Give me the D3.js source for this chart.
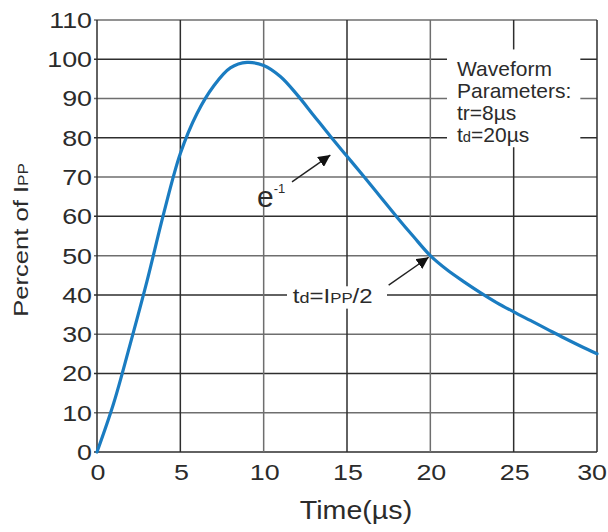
<!DOCTYPE html>
<html>
<head>
<meta charset="utf-8">
<script src="https://cdn.jsdelivr.net/npm/d3@7.9.0/dist/d3.min.js"></script>
<style>
  body { margin: 0; background: #fff; }
  svg text { font-family: "Liberation Sans", Arial, sans-serif; fill: #2b2b2b; }
</style>
</head>
<body>
<svg id="chart" width="608" height="532"></svg>
<script>
// time axis (µs) and the pulse as percent of Ipp
const timeUs = [0, 1, 2, 3, 4, 5, 6, 7, 8, 9, 10, 11, 12, 13, 14, 15,
  16, 17, 18, 19, 20, 21, 22, 23, 24, 25, 26, 27, 28, 29, 30];
const percentIpp = [0, 12.4, 27.6, 43.5, 60.7, 76, 86.2, 93.2, 97.8, 99.2, 98.4, 95.6, 91, 85.7, 80.4, 75.3,
  70.2, 65, 59.8, 54.8, 50, 46.4, 43.4, 40.6, 38, 35.7, 33.5, 31.3, 29.1, 27, 25];

const xTicks = [0, 5, 10, 15, 20, 25, 30];
const yTicks = [0, 10, 20, 30, 40, 50, 60, 70, 80, 90, 100, 110];

const paramLines = ['Waveform', 'Parameters:', 'tr=8µs', 'td=20µs'];

const svg = d3.select('#chart');

// plot area
const x = d3.scaleLinear().domain([0, 30]).range([97, 597]);
const y = d3.scaleLinear().domain([0, 110]).range([452, 20]);

const lineColor = '#1a7cc1';
const gridDark = '#2e2e2e';
const gridLight = '#6e6e6e';

// the labels in the picture are drawn a bit wide, so stretch them sideways
function wideText(parent, px, py, sx, size) {
  return parent.append('text')
    .attr('transform', `translate(${px},${py}) scale(${sx},1)`)
    .style('font-size', size + 'px');
}

// gridlines
const grid = svg.append('g');
grid.selectAll('line.h')
  .data(yTicks)
  .join('line')
  .attr('class', 'h')
  .attr('x1', x(0) - 3).attr('x2', x(30))
  .attr('y1', d => y(d)).attr('y2', d => y(d))
  .attr('stroke', d => (d % 20 === 0 ? gridDark : gridLight))
  .attr('stroke-width', 1.5);

grid.selectAll('line.v')
  .data(xTicks)
  .join('line')
  .attr('class', 'v')
  .attr('x1', d => x(d)).attr('x2', d => x(d))
  .attr('y1', y(110)).attr('y2', y(0))
  .attr('stroke', d => (d % 10 === 5 || d === 0 || d === 30 ? gridDark : gridLight))
  .attr('stroke-width', 1.5);

// tick labels
const yLab = svg.append('g');
yTicks.forEach(d => {
  wideText(yLab, x(0) - 5, y(d), 1.22, 22)
    .attr('dy', '0.36em')
    .attr('text-anchor', 'end')
    .text(d);
});

const xLab = svg.append('g');
xTicks.forEach((d, i) => {
  const last = i === xTicks.length - 1;
  wideText(xLab, last ? 607 : x(d) + 1, y(0) + 28, 1.22, 22)
    .attr('text-anchor', last ? 'end' : 'middle')
    .text(d);
});

// axis titles
wideText(svg, 356, 519, 1.1, 26)
  .attr('text-anchor', 'middle')
  .text('Time(µs)');

const yt = svg.append('text')
  .attr('transform', `translate(28, 240) rotate(-90) scale(1.22,1)`)
  .attr('text-anchor', 'middle')
  .style('font-size', '21px');
yt.append('tspan').text('Percent of I');
yt.append('tspan').style('font-size', '14px').text('PP');

// parameter box (white patch over the grid)
svg.append('rect')
  .attr('x', x(21))
  .attr('y', y(102.5))
  .attr('width', x(29) - x(21))
  .attr('height', y(77.6) - y(102.5))
  .attr('fill', '#fff');

const params = svg.append('g');
paramLines.forEach((s, i) => {
  const t = wideText(params, x(21.6), 76 + i * 22, 1.05, 20);
  if (s.startsWith('td')) {
    t.append('tspan').text('t');
    t.append('tspan').style('font-size', '14px').text('d');
    t.append('tspan').text(s.slice(2));
  } else {
    t.text(s);
  }
});

// the waveform
const line = d3.line()
  .x((d, i) => x(timeUs[i]))
  .y(d => y(d))
  .curve(d3.curveCatmullRom.alpha(0.5));

svg.append('path')
  .datum(percentIpp)
  .attr('d', line)
  .attr('fill', 'none')
  .attr('stroke', lineColor)
  .attr('stroke-width', 3.2)
  .attr('stroke-linecap', 'round');

// arrows
svg.append('defs').append('marker')
  .attr('id', 'head')
  .attr('viewBox', '0 0 10 10')
  .attr('refX', 10).attr('refY', 5)
  .attr('markerWidth', 12).attr('markerHeight', 12)
  .attr('markerUnits', 'userSpaceOnUse')
  .attr('orient', 'auto')
  .append('path')
  .attr('d', 'M0,0 L10,5 L0,10 Z')
  .attr('fill', '#111');

function arrow(t0, v0, t1, v1) {
  svg.append('line')
    .attr('x1', x(t0)).attr('y1', y(v0))
    .attr('x2', x(t1)).attr('y2', y(v1))
    .attr('stroke', '#222')
    .attr('stroke-width', 1.4)
    .attr('marker-end', 'url(#head)');
}

// e^-1 note
arrow(11.7, 68.8, 14.0, 75.6);
const e1 = svg.append('text')
  .attr('x', x(9.6))
  .attr('y', y(62.3))
  .style('font-size', '30px');
e1.append('tspan').text('e');
e1.append('tspan').attr('dy', -14).style('font-size', '13px').text('-1');

// td = Ipp/2 note
svg.append('rect')
  .attr('x', x(11.4))
  .attr('y', y(42.2))
  .attr('width', x(17.4) - x(11.4))
  .attr('height', y(36.5) - y(42.2))
  .attr('fill', '#fff');
arrow(17.5, 42.5, 19.9, 49.6);
const td = wideText(svg, x(11.75), y(37.9), 1.2, 20);
td.append('tspan').text('t');
td.append('tspan').style('font-size', '15px').text('d');
td.append('tspan').text('=I');
td.append('tspan').style('font-size', '14px').text('PP');
td.append('tspan').text('/2');
</script>
</body>
</html>
